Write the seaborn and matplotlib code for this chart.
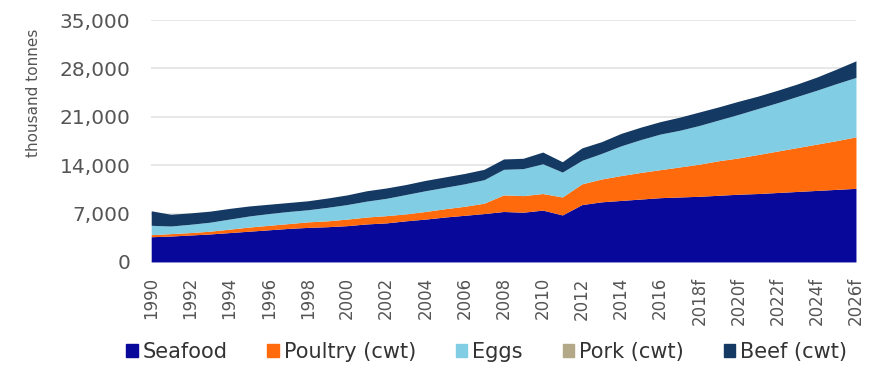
import matplotlib
matplotlib.use("Agg")
import matplotlib.pyplot as plt
import seaborn as sns
import numpy as np
import pandas as pd

# Years and axis labels (forecast years carry an "f")
years = list(range(1990, 2027))
tick_years = list(range(1990, 2027, 2))
tick_labels = [str(y) if y <= 2016 else f"{y}f" for y in tick_years]

# Cumulative level of each layer (thousand tonnes)
seafood_top = [3650, 3750, 3900, 4050, 4250, 4450, 4650, 4850, 5000, 5100,
               5250, 5500, 5650, 5950, 6200, 6500, 6750, 7000, 7300, 7200,
               7500, 6800, 8300, 8700, 8900, 9100, 9300, 9400, 9500, 9650,
               9800, 9900, 10050, 10200, 10350, 10500, 10650]
poultry_top = [3950, 4100, 4250, 4450, 4750, 5050, 5300, 5550, 5800, 5950,
               6200, 6500, 6700, 6950, 7300, 7700, 8050, 8500, 9700, 9600,
               9900, 9400, 11300, 12000, 12500, 12950, 13350, 13750, 14150, 14650,
               15050, 15550, 16050, 16550, 17050, 17550, 18100]
eggs_top = [5300, 5200, 5450, 5750, 6200, 6650, 7000, 7300, 7550, 7900,
            8300, 8800, 9200, 9750, 10300, 10800, 11300, 11900, 13400, 13500,
            14200, 13000, 14700, 15700, 16800, 17700, 18500, 19050, 19750, 20550,
            21350, 22200, 23050, 23950, 24850, 25800, 26700]
pork_top = list(eggs_top)
beef_top = [7400, 6900, 7100, 7350, 7750, 8100, 8350, 8600, 8850, 9250,
            9700, 10300, 10700, 11200, 11800, 12300, 12800, 13400, 14900, 15000,
            15900, 14500, 16500, 17400, 18600, 19500, 20300, 20950, 21700, 22450,
            23250, 24000, 24850, 25750, 26750, 27900, 29100]

series = ["Seafood", "Poultry (cwt)", "Eggs", "Pork (cwt)", "Beef (cwt)"]
colors = ["#08089a", "#ff6a0d", "#80cde4", "#b3a888", "#143a63"]

tops = np.array([seafood_top, poultry_top, eggs_top, pork_top, beef_top], dtype=float)
layers = np.diff(np.vstack([np.zeros(len(years)), tops]), axis=0)
df = pd.DataFrame(layers.T, index=years, columns=series)

sns.set_theme(style="whitegrid")
plt.rcParams["font.family"] = ["DejaVu Sans"]

fig = plt.figure(figsize=(8.69, 3.78), dpi=100)
ax = fig.add_axes([0.174, 0.307, 0.811, 0.640])

ax.stackplot(df.index, [df[c].values for c in series], colors=colors,
             labels=series, linewidth=0)

ax.set_xlim(1990, 2026)
ax.set_ylim(0, 35000)
ax.set_yticks(range(0, 35001, 7000))
ax.set_yticklabels([f"{v:,}" for v in range(0, 35001, 7000)])
ax.set_xticks(tick_years)
ax.set_xticklabels(tick_labels, rotation=90)

text_color = "#555555"
ax.tick_params(axis="y", labelsize=14.5, colors=text_color, length=0, pad=15)
ax.tick_params(axis="x", labelsize=12, colors=text_color, length=0, pad=11)
ax.set_ylabel("thousand tonnes", fontsize=11, color=text_color)
ax.yaxis.set_label_coords(-0.157, 0.70)

ax.grid(axis="y", color="#e3e3e3", linewidth=1.2)
ax.grid(axis="x", visible=False)
for s in ax.spines.values():
    s.set_visible(False)
ax.set_facecolor("white")

handles = [plt.Rectangle((0, 0), 1, 1, color=c) for c in colors]
fig.legend(handles, series, loc="center", bbox_to_anchor=(0.56, 0.069), ncol=5,
           frameon=False, fontsize=15, handlelength=0.55, handleheight=0.55,
           handletextpad=0.25, columnspacing=1.9, labelcolor="#333333")

fig.savefig("out.png", dpi=100, facecolor="white")
